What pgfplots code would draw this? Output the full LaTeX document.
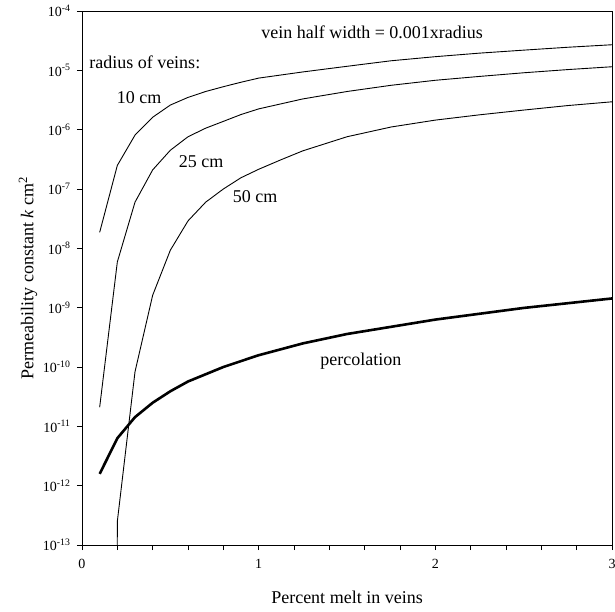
\documentclass[border=0pt]{standalone}
\usepackage{pgfplots}
\pgfplotsset{compat=1.18}
\usepackage{fontspec}
\setmainfont{Liberation Serif}
\begin{document}
\begin{tikzpicture}
\begin{axis}[
  scale only axis,
  width=530pt, height=534pt,
  at={(0,0)}, anchor=south west,
  ymode=log,
  xmin=0, xmax=3, ymin=1e-13, ymax=1e-4,
  xtick={0,1,2,3},
  minor x tick num=4,
  ytick={1e-13,1e-12,1e-11,1e-10,1e-9,1e-8,1e-7,1e-6,1e-5,1e-4},
  yticklabels={10\textsuperscript{-13},10\textsuperscript{-12},10\textsuperscript{-11},10\textsuperscript{-10},10\textsuperscript{-9},10\textsuperscript{-8},10\textsuperscript{-7},10\textsuperscript{-6},10\textsuperscript{-5},10\textsuperscript{-4}},
  xticklabels={0,1,2,3},
  yminorticks=false,
  tick pos=left,
  tick align=outside,
  major tick length=5pt,
  minor tick length=5pt,
  every tick/.style={black, line width=0.8pt},
  axis line style={line width=0.9pt},
  tick label style={font=\fontsize{14}{16}\selectfont},
  xticklabel style={yshift=-6pt},
  yticklabel style={xshift=-3pt},
  xlabel={Percent melt in veins},
  label style={font=\fontsize{18}{21}\selectfont},
  xlabel style={at={(axis description cs:0.5,0)}, anchor=center, yshift=-52pt},
  clip=true,
]
% 10 cm
\addplot[black, line width=0.9pt] coordinates {
(0.1,1.86e-8) (0.2,2.5e-7) (0.3,8.1e-7) (0.4,1.62e-6) (0.5,2.6e-6) (0.6,3.5e-6)
(0.7,4.4e-6) (0.8,5.3e-6) (0.9,6.3e-6) (1.0,7.4e-6) (1.25,9.4e-6) (1.5,1.17e-5)
(1.75,1.45e-5) (2.0,1.70e-5) (2.25,1.95e-5) (2.5,2.19e-5) (2.75,2.45e-5) (3.0,2.7e-5)};
% 25 cm
\addplot[black, line width=0.9pt] coordinates {
(0.1,2.1e-11) (0.2,5.9e-9) (0.3,6.0e-8) (0.4,2.1e-7) (0.5,4.5e-7) (0.6,7.6e-7)
(0.7,1.06e-6) (0.8,1.38e-6) (0.9,1.80e-6) (1.0,2.24e-6) (1.25,3.3e-6) (1.5,4.4e-6)
(1.75,5.6e-6) (2.0,6.8e-6) (2.25,7.9e-6) (2.5,9.1e-6) (2.75,1.03e-5) (3.0,1.15e-5)};
% 50 cm
\addplot[black, line width=0.9pt] coordinates {
(0.199,1e-14) (0.2,2.5e-13) (0.3,8.3e-11) (0.4,1.62e-9) (0.5,9.3e-9) (0.6,2.9e-8)
(0.7,6.0e-8) (0.8,1.0e-7) (0.9,1.55e-7) (1.0,2.15e-7) (1.125,3.1e-7) (1.25,4.4e-7)
(1.5,7.6e-7) (1.75,1.11e-6) (2.0,1.45e-6) (2.25,1.78e-6) (2.5,2.14e-6) (2.75,2.55e-6) (3.0,2.95e-6)};
% percolation
\addplot[black, line width=2.6pt] coordinates {
(0.1,1.58e-12) (0.2,6.3e-12) (0.3,1.43e-11) (0.4,2.5e-11) (0.5,3.9e-11) (0.6,5.7e-11)
(0.8,1.0e-10) (1.0,1.58e-10) (1.25,2.5e-10) (1.5,3.6e-10) (2.0,6.3e-10) (2.5,9.9e-10) (3.0,1.43e-9)};
\node[font=\fontsize{18}{21}\selectfont] at (axis cs:1.642,4.43e-5) {vein half width = 0.001xradius};
\node[font=\fontsize{18}{21}\selectfont, anchor=west, inner sep=0pt] at (axis cs:0.040,1.38e-5) {radius of veins:};
\node[font=\fontsize{18}{21}\selectfont] at (axis cs:0.323,3.42e-6) {10 cm};
\node[font=\fontsize{18}{21}\selectfont] at (axis cs:0.674,2.95e-7) {25 cm};
\node[font=\fontsize{18}{21}\selectfont] at (axis cs:0.98,7.33e-8) {50 cm};
\node[font=\fontsize{18}{21}\selectfont] at (axis cs:1.579,1.26e-10) {percolation};
\end{axis}
\node[rotate=90, font=\fontsize{18}{21}\selectfont] at (-54pt,267pt) {Permeability constant \textit{k} cm\textsuperscript{2}};
\pgfresetboundingbox
\useasboundingbox (-82pt,-66pt) rectangle (533pt,545pt);
\end{tikzpicture}
\end{document}
